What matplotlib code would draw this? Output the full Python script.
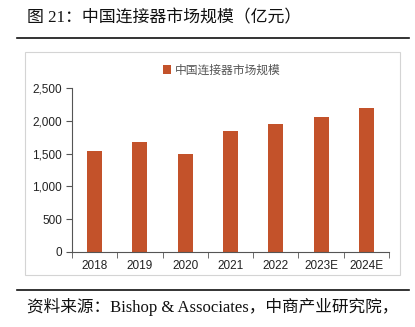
import matplotlib.pyplot as plt
from matplotlib.patches import Rectangle
from matplotlib.lines import Line2D
import numpy as np

years = ['2018', '2019', '2020', '2021', '2022', '2023E', '2024E']
market_size = [1540, 1672, 1489, 1845, 1946, 2058, 2190]
yticks = [0, 500, 1000, 1500, 2000, 2500]
series_name = '中国连接器市场规模'
title = '图 21：中国连接器市场规模（亿元）'
source = '资料来源：Bishop & Associates，中商产业研究院，'

W, H = 415, 327
fig = plt.figure(figsize=(W / 100, H / 100), dpi=100)

def fx(px):
    return px / W

def fy(py):
    return 1 - py / H

# title and source text
fig.text(fx(27), fy(18), title, fontsize=12.2, va='center', ha='left',
         family=['Liberation Serif', 'Noto Sans CJK SC'], color='#111111')
fig.text(fx(27), fy(307), source, fontsize=12, va='center', ha='left',
         family=['Liberation Serif', 'Noto Sans CJK SC'], color='#111111')

# black rules above and below the chart
for y in (38, 290):
    fig.add_artist(Line2D([fx(17), fx(409)], [fy(y), fy(y)], color='#111111', lw=1.2))

# light frame around the chart
fig.add_artist(Rectangle((fx(25), fy(275)), fx(400) - fx(25), fy(52) - fy(275),
                         fill=False, edgecolor='#d4d4d4', lw=0.8))

ax_l, ax_r, ax_t, ax_b = 72, 389, 88, 252
ax = fig.add_axes([fx(ax_l), fy(ax_b), fx(ax_r) - fx(ax_l), fy(ax_t) - fy(ax_b)])
x = np.arange(len(years))
ax.bar(x, market_size, width=0.33, color='#C3522A', label=series_name)

ax.set_xlim(-0.5, len(years) - 0.5)
ax.set_ylim(0, 2500)
ax.set_yticks(yticks)
ax.set_yticklabels([f'{v:,}' for v in yticks], family='Liberation Sans', fontsize=8.5, color='#222222')
ax.set_xticks(x)
ax.set_xticklabels(years, family='Liberation Sans', fontsize=8.5, color='#222222')
ax.tick_params(axis='x', length=0, pad=6)
ax.set_xticks(np.arange(-0.5, len(years)), minor=True)
ax.tick_params(axis='x', which='minor', length=4, direction='out', color='#555555')
ax.tick_params(axis='y', length=4, direction='out', color='#555555', pad=3)

for side in ('top', 'right'):
    ax.spines[side].set_visible(False)
for side in ('left', 'bottom'):
    ax.spines[side].set_color('#555555')
    ax.spines[side].set_linewidth(0.8)

# legend placed above the plot area
leg_x = (158 - ax_l) / (ax_r - ax_l)
leg_y = 1 + (ax_t - 59) / (ax_b - ax_t)
leg = ax.legend(loc='upper left', bbox_to_anchor=(leg_x, leg_y),
                frameon=False, handlelength=0.7, handleheight=0.7, handletextpad=0.3,
                prop={'family': 'Noto Sans CJK SC', 'size': 8.5}, borderaxespad=0)
for t in leg.get_texts():
    t.set_color('#555555')

fig.savefig('out.png', dpi=100)
